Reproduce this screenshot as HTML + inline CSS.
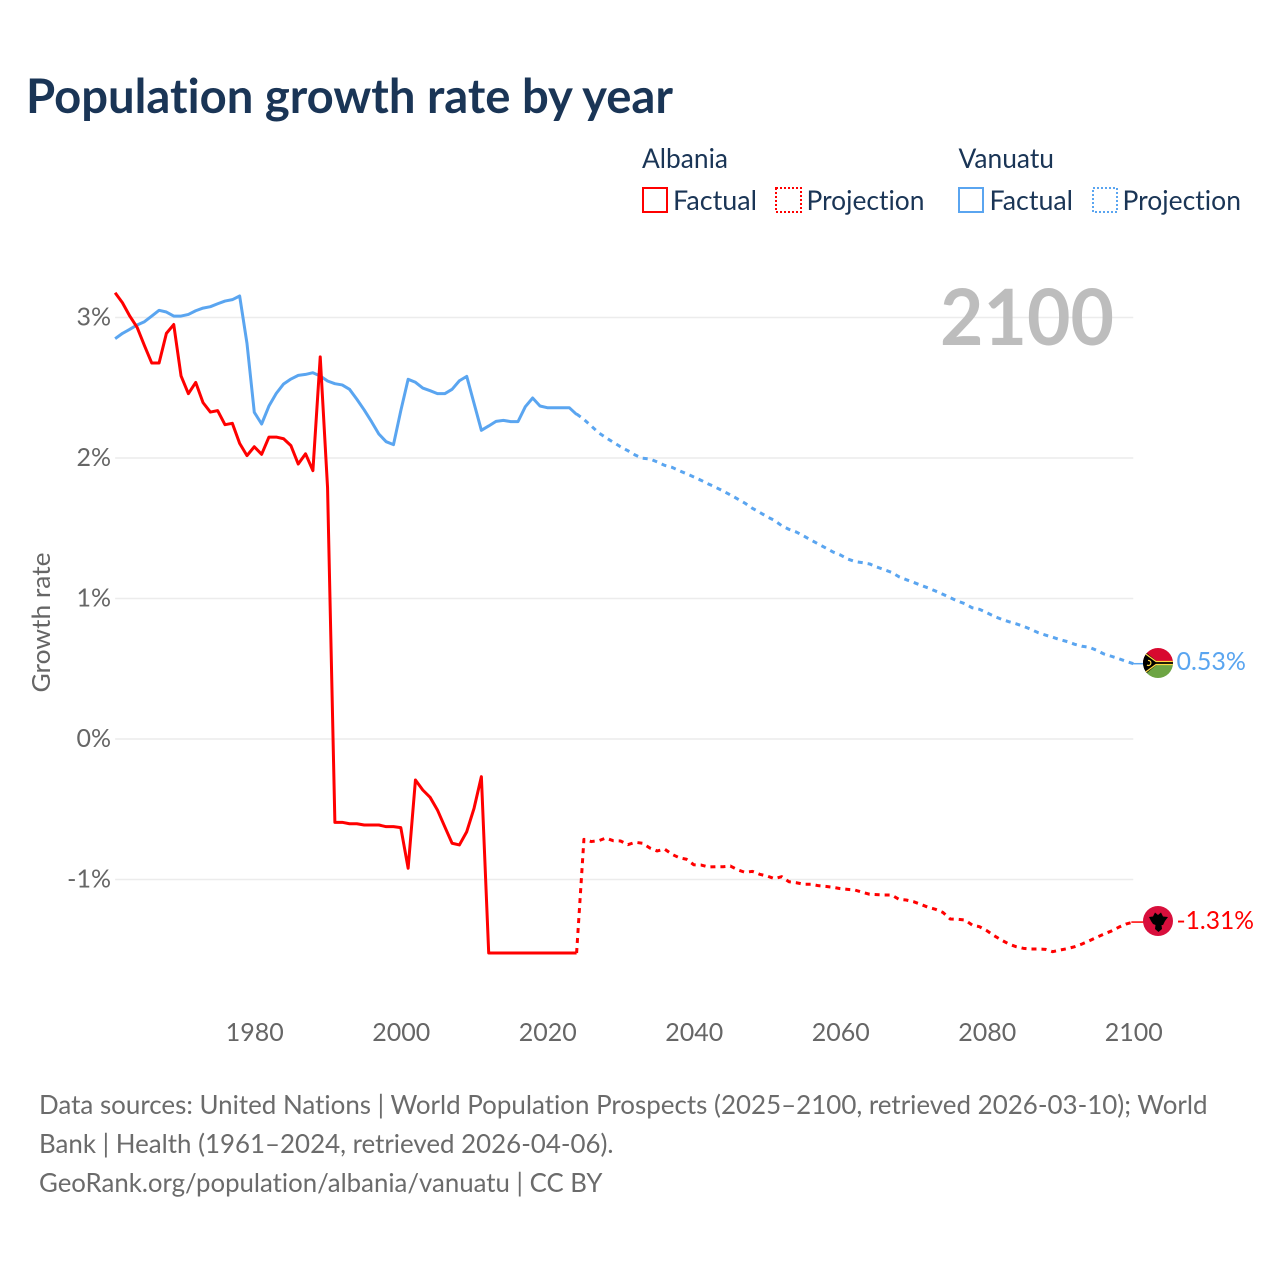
<!DOCTYPE html>
<html lang="en">
<head>
<meta charset="utf-8">
<title>Population growth rate by year</title>
<style>
html,body{margin:0;padding:0;background:#fff;}
svg{display:block;}
text{font-family:"Lato","Carlito","Liberation Sans",sans-serif;font-variant-ligatures:none;}
</style>
</head>
<body>
<svg id="chart" xmlns="http://www.w3.org/2000/svg" width="1280" height="1280" viewBox="0 0 1280 1280">
  <rect x="0" y="0" width="1280" height="1280" fill="#ffffff"/>
  <text x="26" y="113" font-size="48" font-weight="700" fill="#1a3556" textLength="647" lengthAdjust="spacingAndGlyphs">Population growth rate by year</text>

  <g font-size="27" fill="#1a3556">
    <text x="642" y="168" textLength="86" lengthAdjust="spacingAndGlyphs">Albania</text>
    <text x="958.5" y="168" textLength="95.5" lengthAdjust="spacingAndGlyphs">Vanuatu</text>
    <rect x="643" y="188" width="24" height="24" fill="none" stroke="#ff0000" stroke-width="2"/>
    <text x="673" y="210" textLength="84" lengthAdjust="spacingAndGlyphs">Factual</text>
    <rect x="776" y="188" width="25" height="24" fill="none" stroke="#ff0000" stroke-width="2" stroke-dasharray="2 2"/>
    <text x="806.5" y="210" textLength="118" lengthAdjust="spacingAndGlyphs">Projection</text>
    <rect x="959" y="188" width="24" height="24" fill="none" stroke="#5aa5f0" stroke-width="2"/>
    <text x="989.5" y="210" textLength="83.5" lengthAdjust="spacingAndGlyphs">Factual</text>
    <rect x="1093" y="188" width="24" height="24" fill="none" stroke="#5aa5f0" stroke-width="2" stroke-dasharray="2 2"/>
    <text x="1122.5" y="210" textLength="118.5" lengthAdjust="spacingAndGlyphs">Projection</text>
  </g>

  <g id="grid"></g>
  <text x="940" y="345" font-size="78" font-weight="700" fill="#bdbdbd" textLength="174" lengthAdjust="spacingAndGlyphs">2100</text>
  <g id="yticks" font-size="25" fill="#666666" text-anchor="end"></g>
  <g id="xticks" font-size="25" fill="#666666" text-anchor="middle"></g>
  <text transform="translate(50,622.5) rotate(-90)" font-size="25" fill="#666666" text-anchor="middle" textLength="140" lengthAdjust="spacingAndGlyphs">Growth rate</text>

  <g id="series"></g>

  <defs>
    <clipPath id="flag-clip-vu"><circle cx="1158" cy="663" r="15"/></clipPath>
    <clipPath id="flag-clip-al"><circle cx="1158" cy="921" r="15"/></clipPath>
  </defs>
  <g clip-path="url(#flag-clip-vu)">
    <rect x="1143" y="648" width="30" height="15" fill="#d8092f"/>
    <rect x="1143" y="663" width="30" height="15" fill="#6da544"/>
    <rect x="1143" y="661.5" width="30" height="3" fill="#000000"/>
    <polygon points="1143,650 1143,676 1159,663" fill="#000000"/>
    <path d="M1143 652 L1156 661.5 L1173 661.5 M1173 664.5 L1156 664.5 L1143 674" fill="none" stroke="#ffda44" stroke-width="1.3"/>
    <path d="M1148 660.5 A2.5 2.5 0 1 1 1147 665" fill="none" stroke="#ffda44" stroke-width="1.2"/>
  </g>
  <g clip-path="url(#flag-clip-al)">
    <rect x="1143" y="906" width="30" height="30" fill="#d80f3c"/>
    <polygon points="1149,917 1153,916.5 1155,912.5 1158,915 1161,912.5 1163,916.5 1168,917 1165,921 1163,925 1161.5,925 1162,929 1158.5,932 1155,929 1155.5,925 1153,924 1151,921" fill="#000000"/>
  </g>
  <text x="1176.5" y="670" font-size="25" fill="#5aa5f0" textLength="69.5" lengthAdjust="spacingAndGlyphs">0.53%</text>
  <text x="1176.5" y="929" font-size="25" fill="#ff0000" textLength="77.5" lengthAdjust="spacingAndGlyphs">-1.31%</text>

  <g font-size="26" fill="#6b6b6b">
    <text x="39" y="1114" textLength="1168.5" lengthAdjust="spacingAndGlyphs">Data sources: United Nations | World Population Prospects (2025–2100, retrieved 2026-03-10); World</text>
    <text x="39" y="1153" textLength="574.5" lengthAdjust="spacingAndGlyphs">Bank | Health (1961–2024, retrieved 2026-04-06).</text>
    <text x="39" y="1192" textLength="563.5" lengthAdjust="spacingAndGlyphs">GeoRank.org/population/albania/vanuatu | CC BY</text>
  </g>
</svg>
<script>
const xTickYears = [1980, 2000, 2020, 2040, 2060, 2080, 2100];
const yTickValues = [3, 2, 1, 0, -1];
const factualStartYear = 1961;
const projectionStartYear = 2024;
const albaniaFactual = [3.176,3.105,3.01,2.93,2.80,2.676,2.676,2.887,2.95,2.584,2.458,2.538,2.394,2.327,2.337,2.237,2.247,2.104,2.017,2.08,2.026,2.149,2.149,2.137,2.088,1.957,2.03,1.91,2.72,1.79,-0.593,-0.593,-0.603,-0.603,-0.612,-0.612,-0.612,-0.624,-0.624,-0.631,-0.92,-0.292,-0.363,-0.415,-0.505,-0.624,-0.742,-0.754,-0.66,-0.493,-0.268,-1.523,-1.523,-1.523,-1.523,-1.523,-1.523,-1.523,-1.523,-1.523,-1.523,-1.523,-1.523,-1.523];
const albaniaProjection = [-1.523,-0.714,-0.73,-0.724,-0.705,-0.724,-0.726,-0.752,-0.735,-0.742,-0.776,-0.797,-0.783,-0.82,-0.845,-0.856,-0.895,-0.897,-0.911,-0.909,-0.909,-0.904,-0.932,-0.949,-0.942,-0.963,-0.975,-0.994,-0.98,-1.016,-1.023,-1.034,-1.034,-1.044,-1.049,-1.056,-1.065,-1.07,-1.075,-1.091,-1.105,-1.108,-1.11,-1.11,-1.141,-1.146,-1.158,-1.177,-1.198,-1.212,-1.234,-1.281,-1.283,-1.288,-1.324,-1.336,-1.364,-1.40,-1.431,-1.459,-1.478,-1.49,-1.495,-1.495,-1.497,-1.514,-1.502,-1.492,-1.478,-1.459,-1.436,-1.412,-1.388,-1.367,-1.34,-1.317,-1.303];
const vanuatuFactual = [2.849,2.887,2.916,2.947,2.97,3.01,3.051,3.039,3.01,3.01,3.022,3.048,3.067,3.077,3.098,3.117,3.127,3.153,2.816,2.325,2.242,2.37,2.46,2.527,2.562,2.588,2.595,2.607,2.584,2.548,2.529,2.52,2.489,2.418,2.342,2.259,2.171,2.116,2.095,2.337,2.56,2.539,2.498,2.479,2.458,2.458,2.489,2.55,2.581,2.389,2.197,2.228,2.261,2.268,2.259,2.259,2.365,2.427,2.37,2.358,2.358,2.358,2.358,2.31];
const vanuatuProjection = [2.313,2.275,2.228,2.18,2.145,2.112,2.08,2.052,2.021,1.998,1.993,1.972,1.948,1.934,1.91,1.888,1.865,1.841,1.815,1.791,1.765,1.737,1.708,1.678,1.642,1.613,1.582,1.556,1.518,1.492,1.473,1.445,1.416,1.388,1.36,1.331,1.31,1.281,1.263,1.255,1.246,1.224,1.205,1.186,1.155,1.134,1.115,1.094,1.075,1.053,1.03,1.006,0.982,0.963,0.934,0.923,0.899,0.873,0.852,0.835,0.82,0.802,0.781,0.757,0.74,0.724,0.707,0.693,0.674,0.66,0.653,0.631,0.605,0.589,0.572,0.553,0.536];

const NS = 'http://www.w3.org/2000/svg';
function xScale(year) { return 254.3 + (year - 1980) * 7.325; }
function yScale(value) { return 739 - value * 140.5; }
function pathFrom(values, startYear) {
  return values.map(function (v, i) {
    return (i ? 'L' : 'M') + xScale(startYear + i).toFixed(2) + ' ' + yScale(v).toFixed(2);
  }).join(' ');
}

const gridGroup = document.getElementById('grid');
const yGroup = document.getElementById('yticks');
yTickValues.forEach(function (v) {
  const line = document.createElementNS(NS, 'line');
  
  
  line.setAttribute('x1', xScale(1961));
  line.setAttribute('x2', xScale(2100));
  line.setAttribute('y1', yScale(v));
  line.setAttribute('y2', yScale(v));
  line.setAttribute('stroke', '#ececec');
  line.setAttribute('stroke-width', '1.5');
  gridGroup.appendChild(line);
  const label = document.createElementNS(NS, 'text');
  
  
  label.setAttribute('x', 111);
  label.setAttribute('y', yScale(v) + 8);
  label.textContent = v + '%';
  yGroup.appendChild(label);
});

const xGroup = document.getElementById('xticks');
xTickYears.forEach(function (year) {
  const label = document.createElementNS(NS, 'text');
  
  
  label.setAttribute('x', xScale(year) + 0.5);
  label.setAttribute('y', 1041);
  label.textContent = String(year);
  xGroup.appendChild(label);
});

const seriesGroup = document.getElementById('series');
function addLine(values, startYear, color, dashed, name) {
  const path = document.createElementNS(NS, 'path');
  
  
  path.setAttribute('d', pathFrom(values, startYear));
  path.setAttribute('fill', 'none');
  path.setAttribute('stroke', color);
  path.setAttribute('stroke-width', '3');
  path.setAttribute('stroke-linejoin', 'round');
  if (dashed) { path.setAttribute('stroke-dasharray', '5 5'); }
  seriesGroup.appendChild(path);
}
function addConnector(value, color, name) {
  const line = document.createElementNS(NS, 'line');
  
  
  line.setAttribute('x1', xScale(2100) - 2);
  line.setAttribute('x2', 1144);
  line.setAttribute('y1', yScale(value));
  line.setAttribute('y2', yScale(value));
  line.setAttribute('stroke', color);
  line.setAttribute('stroke-width', '1.5');
  seriesGroup.appendChild(line);
}
addLine(vanuatuFactual, factualStartYear, '#5aa5f0', false, 'vanuatu-factual-line');
addLine(vanuatuProjection, projectionStartYear, '#5aa5f0', true, 'vanuatu-projection-line');
addLine(albaniaFactual, factualStartYear, '#ff0000', false, 'albania-factual-line');
addLine(albaniaProjection, projectionStartYear, '#ff0000', true, 'albania-projection-line');
addConnector(vanuatuProjection[vanuatuProjection.length - 1], '#5aa5f0', 'vanuatu-marker-connector');
addConnector(albaniaProjection[albaniaProjection.length - 1], '#ff0000', 'albania-marker-connector');
</script>
</body>
</html>
